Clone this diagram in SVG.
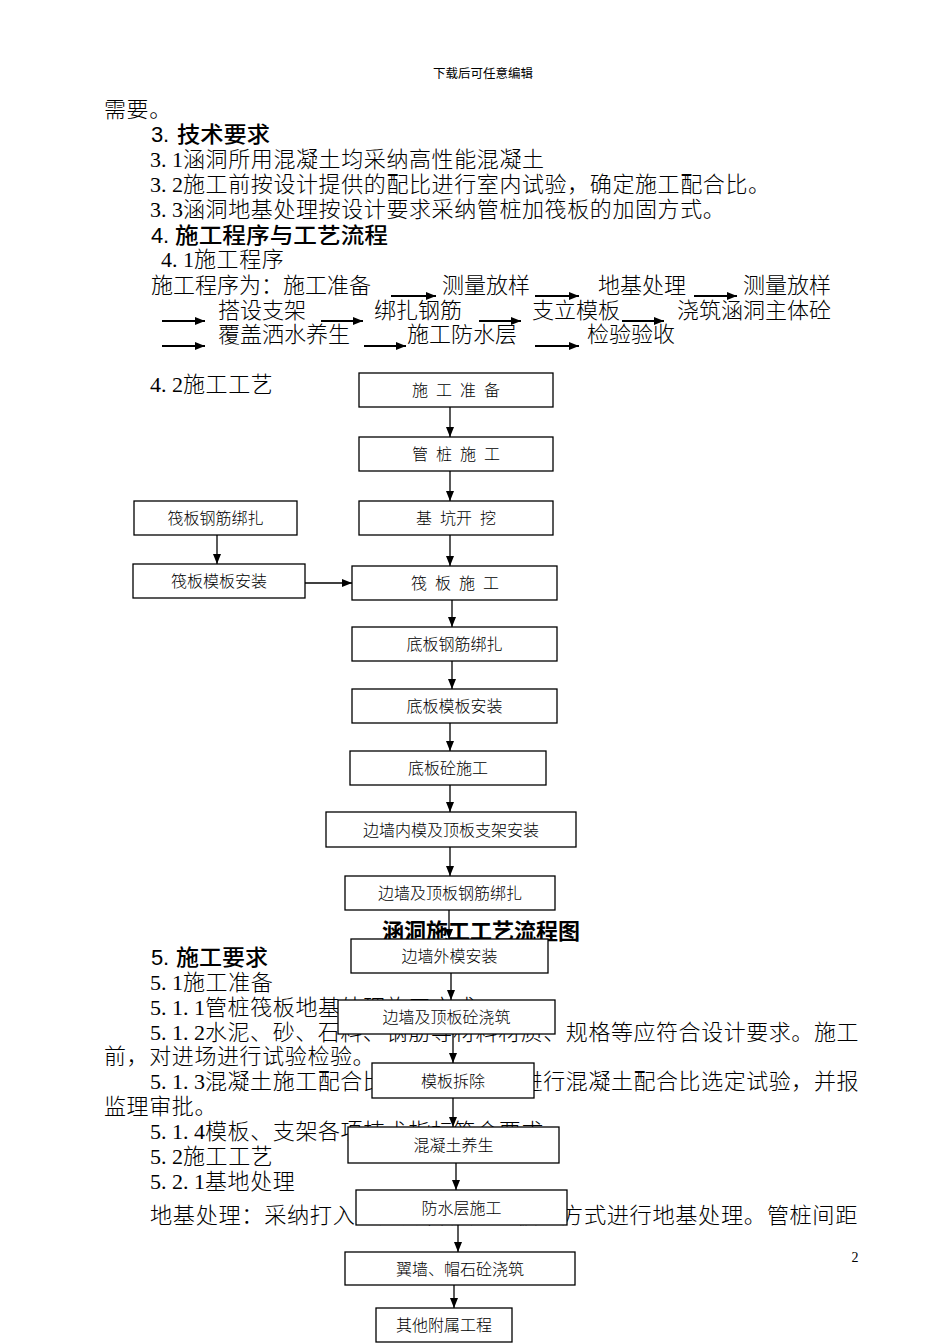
<svg xmlns="http://www.w3.org/2000/svg" width="950" height="1344" viewBox="0 0 950 1344">
<style>
.t{font-family:"Liberation Serif","Noto Sans CJK SC",serif;font-size:22px;font-weight:300;fill:#000;letter-spacing:0.6px}
.s{font-family:"Liberation Serif","Noto Sans CJK SC",serif;font-size:22px;font-weight:300;fill:#000}
.h{font-family:"Liberation Sans","Noto Sans CJK SC",sans-serif;font-size:22px;font-weight:500;fill:#000}
.hd{font-family:"Liberation Serif","Noto Sans CJK SC",serif;font-size:12.5px;fill:#000}
.bx rect{fill:#fff;stroke:#000;stroke-width:1.3}
.bx text{font-family:"Liberation Serif","Noto Sans CJK SC",serif;font-size:16px;font-weight:300;fill:#000;text-anchor:middle}
.cn line{stroke:#000;stroke-width:1.3;marker-end:url(#ah)}
.ar line{stroke:#000;stroke-width:2;marker-end:url(#ah)}
.ttl{font-family:"Noto Sans CJK SC",sans-serif;font-size:22px;font-weight:700;fill:#000}
</style>
<defs>
<marker id="ah" viewBox="0 0 10 8" refX="10" refY="4" markerWidth="10" markerHeight="8" markerUnits="userSpaceOnUse" orient="auto"><path d="M0,0 L10,4 L0,8 z" fill="#000"/></marker>
</defs>
<rect width="950" height="1344" fill="#fff"/>

<text class="hd" x="483" y="78" text-anchor="middle">下载后可任意编辑</text>

<g id="body-text">
<text class="t" x="104" y="117">需要。</text>
<text class="h" y="142"><tspan x="151 163">3.</tspan><tspan x="177" textLength="93" lengthAdjust="spacingAndGlyphs">技术要求</tspan></text>
<text class="t" y="167"><tspan x="150 161 172">3.1</tspan><tspan x="183">涵洞所用混凝土均采纳高性能混凝土</tspan></text>
<text class="t" y="192"><tspan x="150 161 172">3.2</tspan><tspan x="183">施工前按设计提供的配比进行室内试验，确定施工配合比。</tspan></text>
<text class="t" y="217"><tspan x="150 161 172">3.3</tspan><tspan x="183">涵洞地基处理按设计要求采纳管桩加筏板的加固方式。</tspan></text>
<text class="h" y="243"><tspan x="151 163">4.</tspan><tspan x="175" textLength="213" lengthAdjust="spacingAndGlyphs">施工程序与工艺流程</tspan></text>
<text class="t" y="267"><tspan x="161 172 183">4.1</tspan><tspan x="194">施工程序</tspan></text>
<text class="s" x="151" y="293">施工程序为：施工准备</text>
<text class="s" x="442" y="293">测量放样</text>
<text class="s" x="598" y="293">地基处理</text>
<text class="s" x="743" y="293">测量放样</text>
<text class="s" x="218" y="318">搭设支架</text>
<text class="s" x="374" y="318">绑扎钢筋</text>
<text class="s" x="532" y="318">支立模板</text>
<text class="s" x="677" y="318">浇筑涵洞主体砼</text>
<text class="s" x="218" y="342">覆盖洒水养生</text>
<text class="s" x="407" y="342">施工防水层</text>
<text class="s" x="587" y="342">检验验收</text>
<text class="t" y="392"><tspan x="150 161 172">4.2</tspan><tspan x="183">施工工艺</tspan></text>

<text class="h" y="965"><tspan x="151 163">5.</tspan><tspan x="176" textLength="92" lengthAdjust="spacingAndGlyphs">施工要求</tspan></text>
<text class="t" y="990"><tspan x="150 161 172">5.1</tspan><tspan x="183">施工准备</tspan></text>
<text class="t" y="1015"><tspan x="150 161 172 183 194">5.1.1</tspan><tspan x="205">管桩筏板地基处理施工方式</tspan></text>
<text class="t" y="1040"><tspan x="150 161 172 183 194">5.1.2</tspan><tspan x="205" textLength="654" lengthAdjust="spacingAndGlyphs">水泥、砂、石料、钢筋等材料材质、规格等应符合设计要求。施工</tspan></text>
<text class="t" x="104" y="1064">前，对进场进行试验检验。</text>
<text class="t" y="1089"><tspan x="150 161 172 183 194">5.1.3</tspan><tspan x="205" textLength="654" lengthAdjust="spacingAndGlyphs">混凝土施工配合比由中心试验室进行混凝土配合比选定试验，并报</tspan></text>
<text class="t" x="104" y="1114">监理审批。</text>
<text class="t" y="1139"><tspan x="150 161 172 183 194">5.1.4</tspan><tspan x="205">模板、支架各项技术指标符合要求</tspan></text>
<text class="t" y="1164"><tspan x="150 161 172">5.2</tspan><tspan x="183">施工工艺</tspan></text>
<text class="t" y="1189"><tspan x="150 161 172 183 194">5.2.1</tspan><tspan x="205">基地处理</tspan></text>
<text class="t" x="150" y="1223" textLength="708" lengthAdjust="spacingAndGlyphs">地基处理：采纳打入预应力管桩加筏板的方式进行地基处理。管桩间距</text>
</g>

<g id="sequence-arrows" class="ar">
<line x1="391" y1="296" x2="436" y2="296"/>
<line x1="535" y1="296" x2="579" y2="296"/>
<line x1="694" y1="296" x2="737" y2="296"/>
<line x1="162" y1="321" x2="205" y2="321"/>
<line x1="321" y1="321" x2="363" y2="321"/>
<line x1="479" y1="321" x2="521" y2="321"/>
<line x1="622" y1="321" x2="664" y2="321"/>
<line x1="162" y1="346" x2="205" y2="346"/>
<line x1="364" y1="346" x2="406" y2="346"/>
<line x1="535" y1="346" x2="579" y2="346"/>
</g>

<text class="ttl" x="382" y="938.5">涵洞施工工艺流程图</text>

<g id="n1" class="bx"><rect x="359" y="373" width="194" height="34"/><text x="456" y="396" word-spacing="4">施 工 准 备</text></g>
<g id="n2" class="bx"><rect x="359" y="437" width="194" height="34"/><text x="456" y="460" word-spacing="4">管 桩 施 工</text></g>
<g id="n3" class="bx"><rect x="359" y="501" width="194" height="34"/><text x="456" y="524" word-spacing="4">基 坑开 挖</text></g>
<g id="n4" class="bx"><rect x="352" y="566" width="205" height="34"/><text x="455" y="589" word-spacing="4">筏 板 施 工</text></g>
<g id="s1" class="bx"><rect x="134" y="501" width="163" height="34"/><text x="215.5" y="524">筏板钢筋绑扎</text></g>
<g id="s2" class="bx"><rect x="133" y="564" width="172" height="34"/><text x="219" y="587">筏板模板安装</text></g>
<g id="n5" class="bx"><rect x="352" y="627" width="205" height="34"/><text x="454.5" y="650">底板钢筋绑扎</text></g>
<g id="n6" class="bx"><rect x="352" y="689" width="205" height="34"/><text x="454.5" y="712">底板模板安装</text></g>
<g id="n7" class="bx"><rect x="350" y="751" width="196" height="34"/><text x="448" y="774">底板砼施工</text></g>
<g id="n8" class="bx"><rect x="326" y="812" width="250" height="35"/><text x="451" y="835.5">边墙内模及顶板支架安装</text></g>
<g id="n9" class="bx"><rect x="345" y="876" width="210" height="34"/><text x="450" y="899">边墙及顶板钢筋绑扎</text></g>
<g id="n10" class="bx"><rect x="351" y="939" width="197" height="34"/><text x="449.5" y="962">边墙外模安装</text></g>
<g id="n11" class="bx"><rect x="338" y="1000" width="217" height="34"/><text x="446.5" y="1023">边墙及顶板砼浇筑</text></g>
<g id="n12" class="bx"><rect x="372" y="1063" width="162" height="35"/><text x="453" y="1086.5">模板拆除</text></g>
<g id="n13" class="bx"><rect x="348" y="1127" width="211" height="36"/><text x="453.5" y="1151">混凝土养生</text></g>
<g id="n14" class="bx"><rect x="356" y="1190" width="211" height="35"/><text x="461.5" y="1213.5">防水层施工</text></g>
<g id="n15" class="bx"><rect x="345" y="1252" width="230" height="33"/><text x="460" y="1274.5">翼墙、帽石砼浇筑</text></g>
<g id="n16" class="bx"><rect x="376" y="1308" width="136" height="34"/><text x="444" y="1331">其他附属工程</text></g>

<g id="connectors" class="cn">
<line x1="450" y1="407" x2="450" y2="437"/>
<line x1="450" y1="471" x2="450" y2="501"/>
<line x1="450" y1="535" x2="450" y2="566"/>
<line x1="452" y1="600" x2="452" y2="627"/>
<line x1="452" y1="661" x2="452" y2="689"/>
<line x1="450" y1="723" x2="450" y2="751"/>
<line x1="450" y1="785" x2="450" y2="812"/>
<line x1="450" y1="847" x2="450" y2="876"/>
<line x1="449" y1="910" x2="449" y2="939"/>
<line x1="451" y1="973" x2="451" y2="1000"/>
<line x1="453" y1="1034" x2="453" y2="1063"/>
<line x1="453" y1="1098" x2="453" y2="1127"/>
<line x1="456" y1="1163" x2="456" y2="1190"/>
<line x1="458" y1="1225" x2="458" y2="1252"/>
<line x1="454" y1="1285" x2="454" y2="1308"/>
<line x1="217" y1="535" x2="217" y2="564"/>
<line x1="305" y1="583" x2="352" y2="583"/>
</g>

<text class="s" x="855" y="1262" text-anchor="middle" style="font-size:14px">2</text>
</svg>
